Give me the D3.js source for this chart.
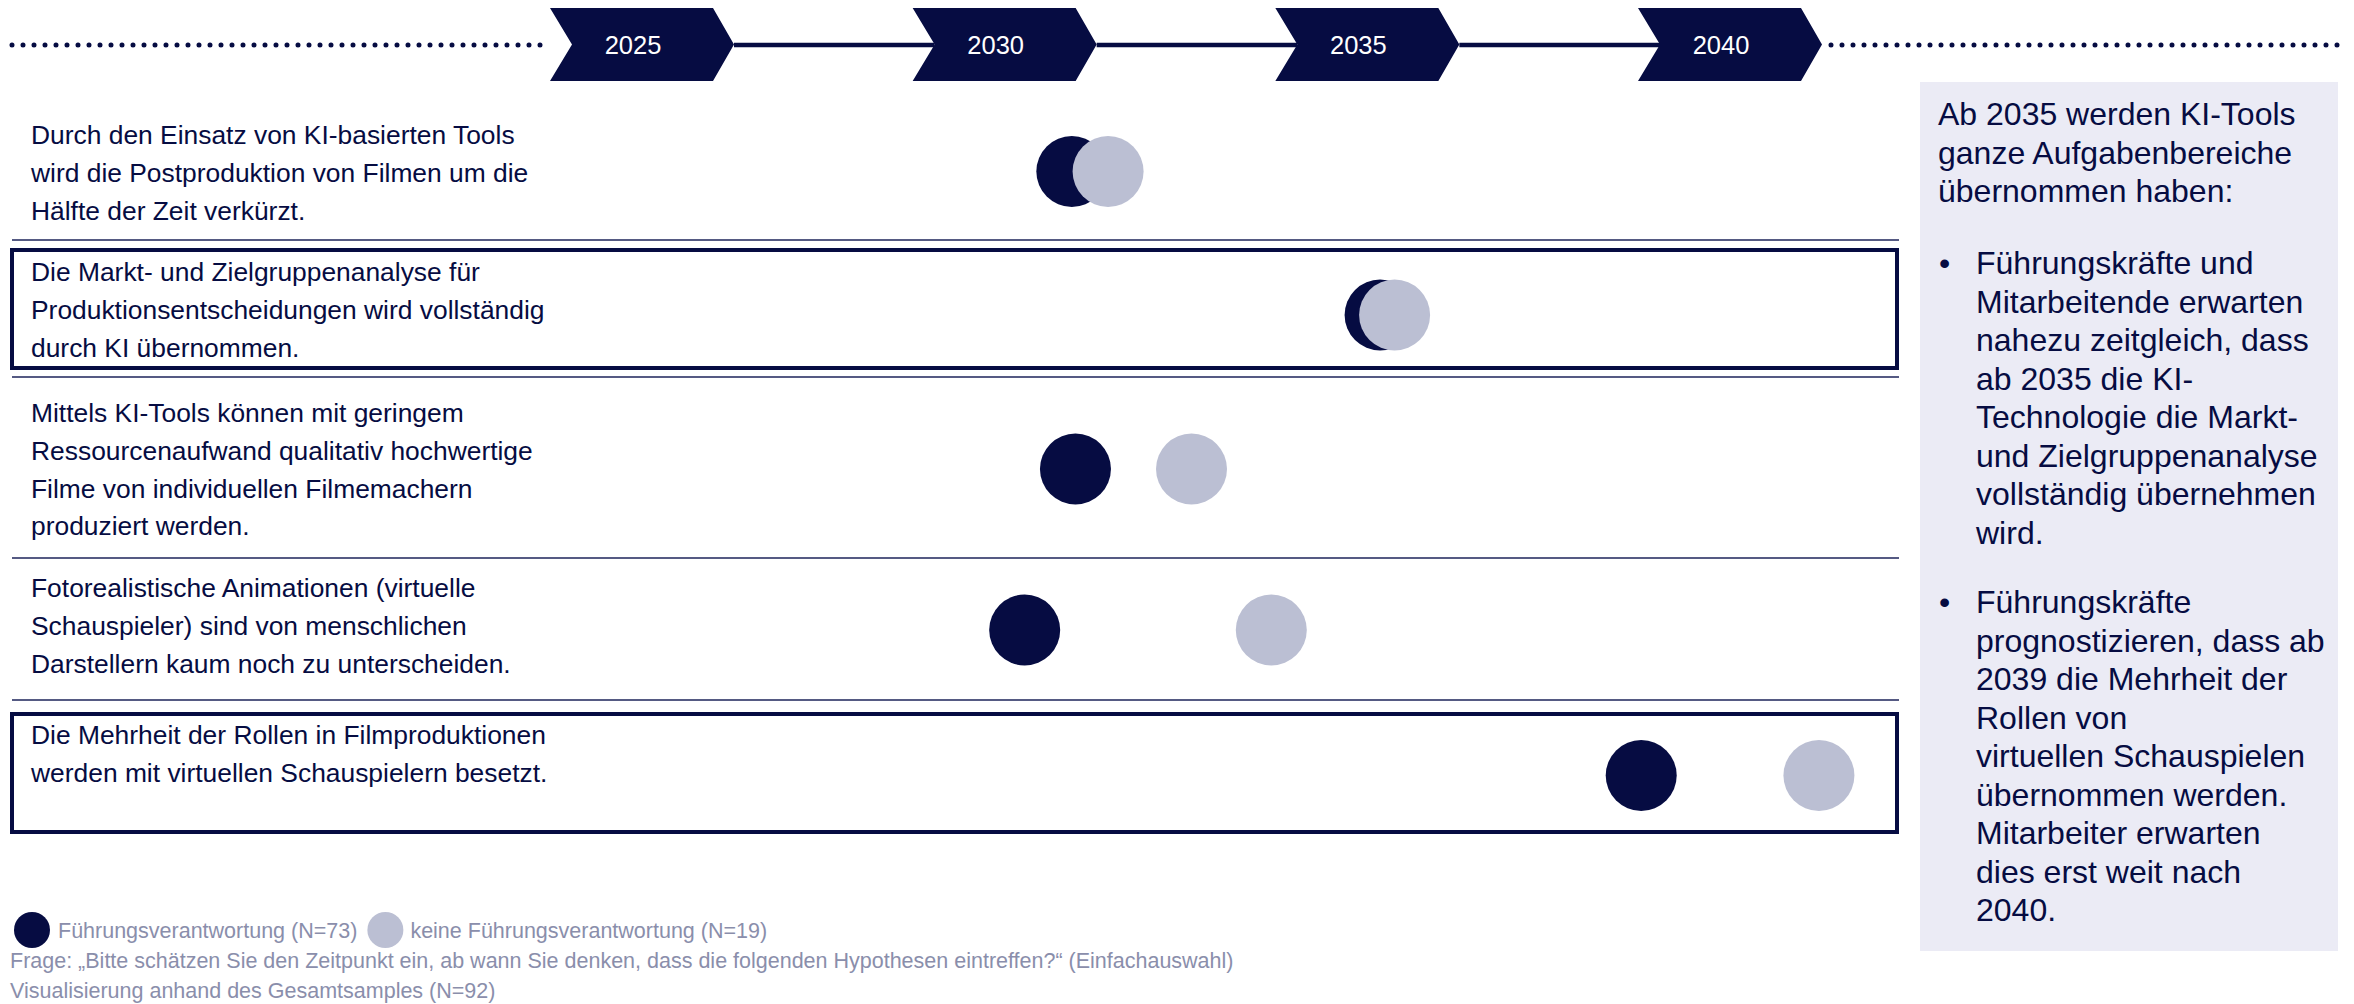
<!DOCTYPE html>
<html lang="de">
<head>
<meta charset="utf-8">
<title>KI in der Filmproduktion – Zeitstrahl</title>
<script src="https://cdn.jsdelivr.net/npm/d3@7"></script>
<style>
  html, body { margin: 0; padding: 0; background: #ffffff; }
  svg { display: block; font-family: "Liberation Sans", Arial, Helvetica, sans-serif; }
</style>
</head>
<body>
<svg id="chart" width="2354" height="1004"></svg>
<script>
// ---- data -------------------------------------------------------------
const years = [2025, 2030, 2035, 2040];

const hypotheses = [
  ["Durch den Einsatz von KI-basierten Tools",
   "wird die Postproduktion von Filmen um die",
   "Hälfte der Zeit verkürzt."],
  ["Die Markt- und Zielgruppenanalyse für",
   "Produktionsentscheidungen wird vollständig",
   "durch KI übernommen."],
  ["Mittels KI-Tools können mit geringem",
   "Ressourcenaufwand qualitativ hochwertige",
   "Filme von individuellen Filmemachern",
   "produziert werden."],
  ["Fotorealistische Animationen (virtuelle",
   "Schauspieler) sind von menschlichen",
   "Darstellern kaum noch zu unterscheiden."],
  ["Die Mehrheit der Rollen in Filmproduktionen",
   "werden mit virtuellen Schauspielern besetzt."]
];

// expected year (mean) per hypothesis
const leaders = [2031.05, 2035.3, 2031.1, 2030.4, 2038.9];   // Führungsverantwortung
const staff   = [2031.55, 2035.5, 2032.7, 2033.8, 2041.35];  // keine Führungsverantwortung

const highlighted = [false, true, false, false, true];

const legendLabels = ["Führungsverantwortung (N=73)", "keine Führungsverantwortung (N=19)"];
const notes = [
  "Frage: „Bitte schätzen Sie den Zeitpunkt ein, ab wann Sie denken, dass die folgenden Hypothesen eintreffen?“ (Einfachauswahl)",
  "Visualisierung anhand des Gesamtsamples (N=92)"
];

const summaryIntro = ["Ab 2035 werden KI-Tools", "ganze Aufgabenbereiche", "übernommen haben:"];
const summaryBullets = [
  ["Führungskräfte und", "Mitarbeitende erwarten", "nahezu zeitgleich, dass", "ab 2035 die KI-",
   "Technologie die Markt-", "und Zielgruppenanalyse", "vollständig übernehmen", "wird."],
  ["Führungskräfte", "prognostizieren, dass ab", "2039 die Mehrheit der", "Rollen von",
   "virtuellen Schauspielen", "übernommen werden.", "Mitarbeiter erwarten", "dies erst weit nach", "2040."]
];

// ---- styling ----------------------------------------------------------
const NAVY = "#060c42";
const LIGHT = "#bbbfd3";
const RULE = "#555a83";
const MUTED = "#8a8eab";
const PANEL = "#ebebf5";

const svg = d3.select("#chart");

// year axis shared by timeline and dots
const x = d3.scaleLinear().domain([2025, 2040]).range([633, 1721]);

// ---- timeline ---------------------------------------------------------
const tl = svg.append("g").attr("class", "timeline");
const tlY = 45;
const chevL = 83, chevR = 80, chevTip = 101, chevNotch = 61, chevTop = 8, chevBot = 81;

const first = x(years[0]), last = x(years[years.length - 1]);

// dotted lead-in and lead-out
tl.append("line")
  .attr("x1", 12).attr("x2", first - chevL).attr("y1", tlY).attr("y2", tlY)
  .attr("stroke", NAVY).attr("stroke-width", 5)
  .attr("stroke-linecap", "round").attr("stroke-dasharray", "0 11");
tl.append("line")
  .attr("x1", last + chevTip + 9).attr("x2", 2342).attr("y1", tlY).attr("y2", tlY)
  .attr("stroke", NAVY).attr("stroke-width", 5)
  .attr("stroke-linecap", "round").attr("stroke-dasharray", "0 11");

// solid connectors between chevrons
tl.selectAll("line.link")
  .data(d3.pairs(years))
  .join("line")
  .attr("class", "link")
  .attr("x1", d => x(d[0]) + chevTip).attr("x2", d => x(d[1]) - chevNotch)
  .attr("y1", tlY).attr("y2", tlY)
  .attr("stroke", NAVY).attr("stroke-width", 4.5);

const chev = tl.selectAll("g.chev")
  .data(years)
  .join("g")
  .attr("class", "chev")
  .attr("transform", d => `translate(${x(d)},0)`);

chev.append("path")
  .attr("d", `M${-chevL},${chevTop} L${chevR},${chevTop} L${chevTip},${(chevTop + chevBot) / 2} L${chevR},${chevBot} L${-chevL},${chevBot} L${-chevNotch},${(chevTop + chevBot) / 2} Z`)
  .attr("fill", NAVY);

chev.append("text")
  .attr("x", 0).attr("y", 54)
  .attr("text-anchor", "middle")
  .attr("fill", "#ffffff")
  .attr("font-size", 25.5)
  .text(d => d);

// ---- hypothesis rows --------------------------------------------------
// vertical layout of the five rows
const rowLayout = [
  { text: 144, cy: 171.5, ruleBelow: 240 },
  { text: 281, cy: 315, box: [250, 368], ruleBelow: 377 },
  { text: 422, cy: 469, ruleBelow: 558 },
  { text: 597, cy: 630, ruleBelow: 700 },
  { text: 744, cy: 775.5, box: [714, 832] }
];
const lineH = 37.8;
const rowLeft = 12, rowRight = 1897;

const rows = svg.append("g").attr("class", "rows")
  .selectAll("g.row")
  .data(hypotheses.map((lines, i) => ({ lines, i, lead: leaders[i], staff: staff[i], hl: highlighted[i], lay: rowLayout[i] })))
  .join("g")
  .attr("class", "row");

rows.filter(d => d.lay.ruleBelow)
  .append("line")
  .attr("x1", rowLeft).attr("x2", rowRight + 2)
  .attr("y1", d => d.lay.ruleBelow).attr("y2", d => d.lay.ruleBelow)
  .attr("stroke", RULE).attr("stroke-width", 2.2);

rows.filter(d => d.hl && d.lay.box)
  .append("rect")
  .attr("x", rowLeft).attr("width", rowRight - rowLeft)
  .attr("y", d => d.lay.box[0]).attr("height", d => d.lay.box[1] - d.lay.box[0])
  .attr("fill", "none").attr("stroke", NAVY).attr("stroke-width", 4);

rows.append("text")
  .attr("fill", NAVY)
  .attr("font-size", 26.4)
  .selectAll("tspan")
  .data(d => d.lines.map((t, k) => ({ t, y: d.lay.text + k * lineH })))
  .join("tspan")
  .attr("x", 31)
  .attr("y", d => d.y)
  .text(d => d.t);

const R = 35.5;
rows.append("circle")
  .attr("cx", d => x(d.lead)).attr("cy", d => d.lay.cy).attr("r", R)
  .attr("fill", NAVY);
rows.append("circle")
  .attr("cx", d => x(d.staff)).attr("cy", d => d.lay.cy).attr("r", R)
  .attr("fill", LIGHT);

// ---- legend and notes -------------------------------------------------
const leg = svg.append("g").attr("class", "legend");
const legY = 930, legR = 18;
leg.append("circle").attr("cx", 32).attr("cy", legY).attr("r", legR).attr("fill", NAVY);
const l1 = leg.append("text").attr("x", 58).attr("y", legY + 8)
  .attr("fill", MUTED).attr("font-size", 21.5).text(legendLabels[0]);
const l1End = 58 + l1.node().getComputedTextLength();
leg.append("circle").attr("cx", l1End + 10 + legR).attr("cy", legY).attr("r", legR).attr("fill", LIGHT);
leg.append("text").attr("x", l1End + 10 + 2 * legR + 7).attr("y", legY + 8)
  .attr("fill", MUTED).attr("font-size", 21.5).text(legendLabels[1]);

leg.selectAll("text.note")
  .data(notes)
  .join("text")
  .attr("class", "note")
  .attr("x", 10)
  .attr("y", (d, i) => 968 + i * 30)
  .attr("fill", MUTED).attr("font-size", 21.5)
  .text(d => d);

// ---- summary panel ----------------------------------------------------
const panel = svg.append("g").attr("class", "summary");
panel.append("rect")
  .attr("x", 1920).attr("y", 82).attr("width", 418).attr("height", 869)
  .attr("fill", PANEL);

const pLine = 38.5, pFont = 32;
const pText = panel.append("text").attr("fill", NAVY).attr("font-size", pFont);
pText.selectAll("tspan.intro")
  .data(summaryIntro)
  .join("tspan")
  .attr("class", "intro")
  .attr("x", 1938)
  .attr("y", (d, i) => 125 + i * pLine)
  .text(d => d);

const bulletStarts = [274, 613];
summaryBullets.forEach((lines, b) => {
  pText.append("tspan")
    .attr("x", 1939).attr("y", bulletStarts[b])
    .text("•");
  lines.forEach((t, k) => {
    pText.append("tspan")
      .attr("x", 1976).attr("y", bulletStarts[b] + k * pLine)
      .text(t);
  });
});
</script>
</body>
</html>
